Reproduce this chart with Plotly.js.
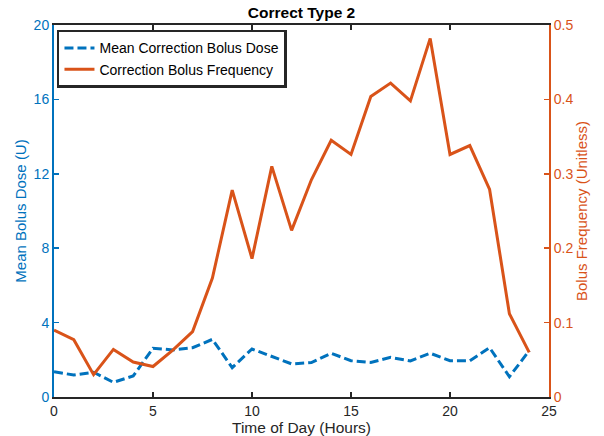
<!DOCTYPE html>
<html>
<head>
<meta charset="utf-8">
<script src="https://cdn.plot.ly/plotly-3.0.1.min.js"></script>
<style>html,body{margin:0;padding:0;background:#fff;}#chart{width:604px;height:436px;}</style>
</head>
<body>
<div id="chart"></div>
<script>
const hours = [0,1,2,3,4,5,6,7,8,9,10,11,12,13,14,15,16,17,18,19,20,21,22,23,24];
const meanDose = [1.36,1.18,1.33,0.79,1.13,2.62,2.53,2.65,3.10,1.58,2.58,2.17,1.78,1.85,2.35,1.95,1.86,2.13,1.94,2.35,1.95,1.95,2.65,1.09,2.49];
const bolusFreq = [0.090,0.077,0.030,0.064,0.047,0.041,0.063,0.088,0.160,0.278,0.186,0.310,0.224,0.292,0.345,0.326,0.404,0.422,0.398,0.482,0.326,0.338,0.279,0.112,0.060];
const leftTicks = [0,4,8,12,16,20];
const rightTicks = [0,0.1,0.2,0.3,0.4,0.5];
const xTicks = [0,5,10,15,20,25];

const BLUE = '#0072BD', ORANGE = '#D95319';
const FONT = 'Liberation Sans, Arial, Helvetica, sans-serif';

const traces = [
  {x: hours, y: meanDose, type: 'scatter', mode: 'lines', name: 'Mean Correction Bolus Dose',
   line: {color: BLUE, width: 3, dash: '9px,4px'}, yaxis: 'y'},
  {x: hours, y: bolusFreq, type: 'scatter', mode: 'lines', name: 'Correction Bolus Frequency',
   line: {color: ORANGE, width: 3}, yaxis: 'y2'}
];

const layout = {
  width: 604, height: 436,
  margin: {l: 54, r: 55, t: 25, b: 39, pad: 0},
  paper_bgcolor: '#fff', plot_bgcolor: '#fff',
  font: {family: FONT, size: 14, color: '#262626'},
  showlegend: true,
  title: {text: '<b>Correct Type 2</b>', x: 0.5, xref: 'paper', xanchor: 'center', y: 0.972, yanchor: 'middle', font: {family: FONT, size: 15.5, color: '#000'}},
  legend: {x: 0.006, y: 0.987, xanchor: 'left', yanchor: 'top', bgcolor: '#fff', bordercolor: '#262626', borderwidth: 2.5,
    font: {family: FONT, size: 14, color: '#000'}, tracegroupgap: 0, itemwidth: 30},
  xaxis: {range: [0, 25], tickvals: xTicks, ticktext: xTicks.map(String), ticks: 'inside', ticklen: 5, tickwidth: 1.5,
    tickcolor: '#262626', showline: true, linecolor: '#262626', linewidth: 2, mirror: 'ticks', showgrid: false, zeroline: false,
    tickfont: {family: FONT, size: 14, color: '#262626'},
    title: {text: 'Time of Day (Hours)', font: {family: FONT, size: 15.5, color: '#262626'}, standoff: 3}},
  yaxis: {range: [0, 20], tickvals: leftTicks, ticktext: leftTicks.map(String), ticks: 'inside', ticklen: 5, tickwidth: 1.5,
    tickcolor: BLUE, showline: true, linecolor: BLUE, linewidth: 2, showgrid: false, zeroline: false,
    tickfont: {family: FONT, size: 14, color: BLUE},
    title: {text: 'Mean Bolus Dose (U)', font: {family: FONT, size: 15, color: BLUE}, standoff: 3}},
  yaxis2: {range: [0, 0.5], tickvals: rightTicks, ticktext: rightTicks.map(String), overlaying: 'y', side: 'right', ticks: 'inside', ticklen: 5, tickwidth: 1.5,
    tickcolor: ORANGE, showline: true, linecolor: ORANGE, linewidth: 2, showgrid: false, zeroline: false,
    tickfont: {family: FONT, size: 14, color: ORANGE},
    title: {text: 'Bolus Frequency (Unitless)', font: {family: FONT, size: 15, color: ORANGE}, standoff: 3}}
};

Plotly.newPlot('chart', traces, layout, {displayModeBar: false, staticPlot: true});
</script>
</body>
</html>
